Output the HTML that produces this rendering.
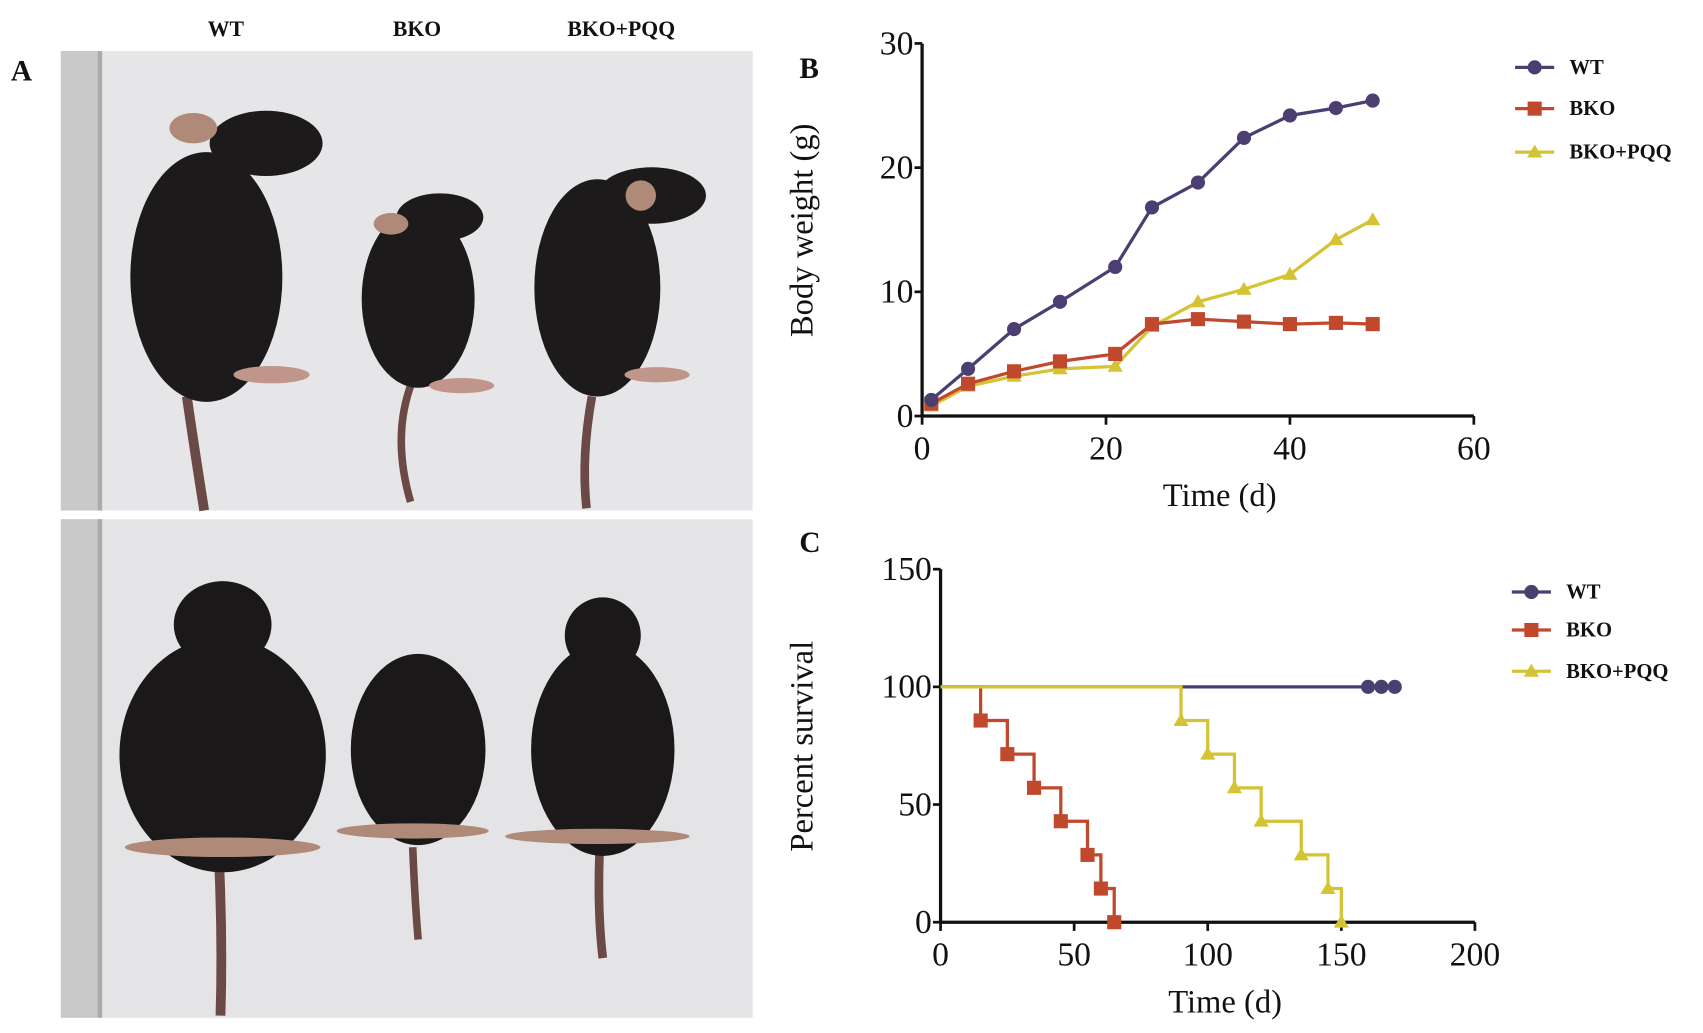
<!DOCTYPE html>
<html><head><meta charset="utf-8"><style>
html,body{margin:0;padding:0;background:#fff;}
svg{display:block;}
text{font-family:"Liberation Serif",serif;fill:#111;}
</style></head><body>
<svg id="fig" width="1703" height="1033" viewBox="0 0 1568 951" preserveAspectRatio="none" xmlns="http://www.w3.org/2000/svg">
<g>
<text x="10" y="74" font-size="27" font-weight="bold">A</text>
<text x="208" y="33" font-size="20" font-weight="bold" text-anchor="middle">WT</text>
<text x="384" y="33" font-size="20" font-weight="bold" text-anchor="middle">BKO</text>
<text x="572" y="33" font-size="20" font-weight="bold" text-anchor="middle">BKO+PQQ</text>
<g>
<rect x="56" y="47" width="637" height="423" fill="#e6e6e8"/>
<rect x="56" y="47" width="38" height="423" fill="#c9c9c9"/>
<rect x="90" y="47" width="4" height="423" fill="#aaa"/>
<g fill="#1c1a1a" stroke="none">
<path d="M172 365 Q180 420 188 470" stroke="#6b4a45" stroke-width="9" fill="none"/>
<ellipse cx="190" cy="255" rx="70" ry="115"/>
<ellipse cx="245" cy="132" rx="52" ry="30"/>
<ellipse cx="178" cy="118" rx="22" ry="14" fill="#b08a78"/>
<ellipse cx="250" cy="345" rx="35" ry="8" fill="#c0968a"/>
<path d="M380 350 Q360 400 378 462" stroke="#6b4a45" stroke-width="7" fill="none"/>
<ellipse cx="385" cy="275" rx="52" ry="82"/>
<ellipse cx="405" cy="200" rx="40" ry="22"/>
<ellipse cx="360" cy="206" rx="16" ry="10" fill="#b08a78"/>
<ellipse cx="400" cy="165" rx="0" ry="0"/>
<ellipse cx="425" cy="355" rx="30" ry="7" fill="#c0968a"/>
<path d="M545 365 Q535 420 540 468" stroke="#6b4a45" stroke-width="8" fill="none"/>
<ellipse cx="550" cy="265" rx="58" ry="100"/>
<ellipse cx="600" cy="180" rx="50" ry="26"/>
<ellipse cx="590" cy="180" rx="14" ry="14" fill="#b08a78"/>
<ellipse cx="605" cy="345" rx="30" ry="7" fill="#c0968a"/>
</g>
</g>
<g>
<rect x="56" y="478" width="637" height="459" fill="#e4e4e6"/>
<rect x="56" y="478" width="38" height="459" fill="#c9c9c9"/>
<rect x="90" y="478" width="4" height="459" fill="#aaa"/>
<g fill="#1a1818">
<path d="M202 800 Q205 870 203 935" stroke="#6b4a45" stroke-width="9" fill="none"/>
<ellipse cx="205" cy="695" rx="95" ry="108"/>
<ellipse cx="205" cy="575" rx="45" ry="40"/>
<ellipse cx="205" cy="780" rx="90" ry="9" fill="#b08a78"/>
<path d="M380 780 Q382 830 385 865" stroke="#6b4a45" stroke-width="7" fill="none"/>
<ellipse cx="385" cy="690" rx="62" ry="88"/>
<ellipse cx="380" cy="765" rx="70" ry="7" fill="#b08a78"/>
<path d="M552 785 Q550 840 555 882" stroke="#6b4a45" stroke-width="8" fill="none"/>
<ellipse cx="555" cy="690" rx="66" ry="98"/>
<ellipse cx="555" cy="585" rx="35" ry="35"/>
<ellipse cx="550" cy="770" rx="85" ry="7" fill="#b08a78"/>
</g>
</g>
</g>
<text x="736" y="72" font-size="27" font-weight="bold">B</text>
<text x="736" y="508" font-size="27" font-weight="bold">C</text>
<g id="chartB"></g>
<g id="chartC"></g>
</svg>
<script>
const NS="http://www.w3.org/2000/svg";
// Panel B data
const bDays=[1,5,10,15,21,25,30,35,40,45,49];
const bWT=[1.3,3.8,7,9.2,12,16.8,18.8,22.4,24.2,24.8,25.4];
const bBKO=[1,2.6,3.6,4.4,5,7.4,7.8,7.6,7.4,7.5,7.4];
const bPQQ=[0.8,2.4,3.2,3.8,4,7.2,9.2,10.2,11.4,14.2,15.8];
const bXTicks=[0,20,40,60];
const bYTicks=[0,10,20,30];
// Panel C data
const cBKOTimes=[0,15,25,35,45,55,60,65];
const cBKOSurv=[100,85.7,71.4,57.1,42.9,28.6,14.3,0];
const cPQQTimes=[0,90,100,110,120,135,145,150];
const cPQQSurv=[100,85.7,71.4,57.1,42.9,28.6,14.3,0];
const cWTTimes=[0,160,165,170];
const cWTSurv=[100,100,100,100];
const cXTicks=[0,50,100,150,200];
const cYTicks=[0,50,100,150];
const series=["WT","BKO","BKO+PQQ"];
const colors={"WT":"#4b3f72","BKO":"#c0482c","BKO+PQQ":"#d4c434"};

function el(tag,attrs,parent,txt){const e=document.createElementNS(NS,tag);for(const k in attrs)e.setAttribute(k,attrs[k]);if(txt!==undefined)e.textContent=txt;parent.appendChild(e);return e;}
function marker(g,kind,x,y,c){
  let m;
  if(kind==="WT") m=el("circle",{cx:x,cy:y,r:6.5,fill:c},g);
  else if(kind==="BKO") m=el("rect",{x:x-6.5,y:y-6.5,width:13,height:13,fill:c},g);
  else m=el("polygon",{points:`${x},${y-7} ${x+7},${y+5} ${x-7},${y+5}`,fill:c},g);
  return m;
}
function axes(g,X,Y,xt,yt,x0,y0,x1,y1){
  el("line",{x1:x0,y1:y0,x2:x0,y2:y1,stroke:"#111","stroke-width":3},g);
  el("line",{x1:x0,y1:y0,x2:x1,y2:y0,stroke:"#111","stroke-width":3},g);
  xt.forEach(v=>{el("line",{x1:X(v),y1:y0,x2:X(v),y2:y0+8,stroke:"#111","stroke-width":2.5},g);
    const t=el("text",{x:X(v),y:y0+40,"font-size":31,"text-anchor":"middle"},g,v);
    
    });
  yt.forEach(v=>{el("line",{x1:x0-7,y1:Y(v),x2:x0,y2:Y(v),stroke:"#111","stroke-width":2.5},g);
    const t=el("text",{x:x0-8,y:Y(v)+10,"font-size":31,"text-anchor":"end"},g,v);
    
    });
}
function legend(g,x,ys){
  series.forEach((s,i)=>{const lg=el("g",{},g);
    
    
    el("line",{x1:x,y1:ys[i],x2:x+36,y2:ys[i],stroke:colors[s],"stroke-width":3},lg);
    marker(lg,s,x+18,ys[i],colors[s]);
    el("text",{x:x+50,y:ys[i]+6,"font-size":19,"font-weight":"bold"},lg,s);});
}
// Chart B
(function(){
  const g=document.getElementById("chartB");
  const x0=849,x1=1357,y0=383,y1=40;
  const X=v=>x0+(v/60)*(x1-x0), Y=v=>y0-(v/30)*(y0-y1);
  axes(g,X,Y,bXTicks,bYTicks,x0,y0,x1,y1);
  const yt=el("text",{x:0,y:0,"font-size":30,"text-anchor":"middle",transform:`translate(748,212) rotate(-90)`},g,"Body weight (g)");
  
  
  const xt=el("text",{x:1123,y:466,"font-size":30,"text-anchor":"middle"},g,"Time (d)");
  
  
  [["BKO+PQQ",bPQQ],["BKO",bBKO],["WT",bWT]].forEach(([s,arr])=>{
    const sg=el("g",{},g);
    
    
    el("polyline",{points:bDays.map((d,i)=>X(d)+","+Y(arr[i])).join(" "),fill:"none",stroke:colors[s],"stroke-width":3},sg);
    bDays.forEach((d,i)=>{const m=marker(sg,s,X(d),Y(arr[i]),colors[s]);
      
      });
  });
  legend(g,1395,[62,100,140]);
})();
// Chart C
(function(){
  const g=document.getElementById("chartC");
  const x0=866,x1=1358,y0=849,y1=524;
  const X=v=>x0+(v/200)*(x1-x0), Y=v=>y0-(v/150)*(y0-y1);
  axes(g,X,Y,cXTicks,cYTicks,x0,y0,x1,y1);
  const yt=el("text",{x:0,y:0,"font-size":30,"text-anchor":"middle",transform:`translate(748,687) rotate(-90)`},g,"Percent survival");
  
  
  const xt=el("text",{x:1128,y:932,"font-size":30,"text-anchor":"middle"},g,"Time (d)");
  
  
  function step(s,T,S){
    const sg=el("g",{},g);
    
    
    let pts=[X(T[0])+","+Y(S[0])];
    for(let i=1;i<T.length;i++){pts.push(X(T[i])+","+Y(S[i-1]));pts.push(X(T[i])+","+Y(S[i]));}
    el("polyline",{points:pts.join(" "),fill:"none",stroke:colors[s],"stroke-width":3},sg);
    for(let i=1;i<T.length;i++){const m=marker(sg,s,X(T[i]),Y(S[i]),colors[s]);
      
      }
  }
  step("WT",cWTTimes,cWTSurv);
  step("BKO",cBKOTimes,cBKOSurv);
  step("BKO+PQQ",cPQQTimes,cPQQSurv);
  legend(g,1392,[545,580,618]);
})();
</script>
</body></html>
